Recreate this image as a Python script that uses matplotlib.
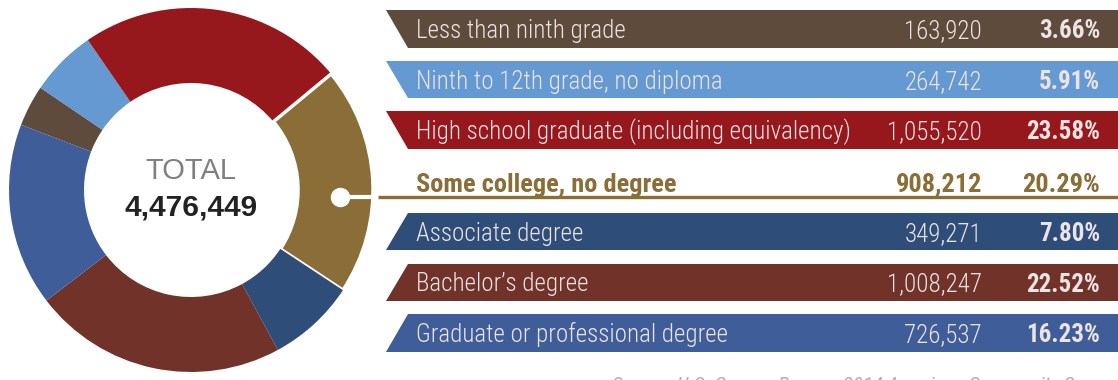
import matplotlib
matplotlib.use("Agg")
import matplotlib.pyplot as plt
from matplotlib import font_manager
from matplotlib.patches import Polygon

installed = {f.name for f in font_manager.fontManager.ttflist}
cond = next((n for n in ["Roboto Condensed", "Fira Sans Condensed", "Liberation Sans Narrow",
                         "Pragati Narrow"] if n in installed), "DejaVu Sans")
plt.rcParams['font.family'] = [cond, 'DejaVu Sans']

# data
categories = ["Less than ninth grade",
              "Ninth to 12th grade, no diploma",
              "High school graduate (including equivalency)",
              "Some college, no degree",
              "Associate degree",
              "Bachelor\u2019s degree",
              "Graduate or professional degree"]
counts = [163920, 264742, 1055520, 908212, 349271, 1008247, 726537]
percents = ["3.66%", "5.91%", "23.58%", "20.29%", "7.80%", "22.52%", "16.23%"]
total_label = "4,476,449"
colors = ["#5f4b3c", "#6599d1", "#96181d", "#8a6d37", "#2e4d78", "#71322a", "#3f5e99"]
highlight = 3

W, H = 1118, 380
fig = plt.figure(figsize=(W / 100, H / 100), dpi=100)
ax = fig.add_axes([0, 0, 1, 1])

# donut (pixel coordinates, y measured from bottom)
cx, cy = 191, H - 190
R, ring = 182, 75
explode = [0.045 if i == highlight else 0 for i in range(len(counts))]
wedges, _ = ax.pie(counts, colors=colors, radius=R, center=(cx, cy), startangle=159,
                   counterclock=False, explode=explode,
                   wedgeprops=dict(width=ring, linewidth=0))
wedges[highlight].set_edgecolor("white")
wedges[highlight].set_linewidth(2.5)

plain = ["Liberation Sans", "DejaVu Sans"]
ax.text(cx, cy + 19, "TOTAL", ha="center", va="center", fontsize=21,
        color="#808080", family=plain)
ax.text(cx, cy - 18, total_label, ha="center", va="center", fontsize=21.5,
        fontweight="bold", color="#222222", family=plain)

# connector from highlighted wedge
ly = H - 197
ax.plot([340, 377], [ly, ly], color="white", lw=3, solid_capstyle="butt", zorder=5)
ax.plot([340], [ly], "o", color="white", markersize=13, zorder=6)
ax.plot([378, W], [ly, ly], color=colors[highlight], lw=2.4, solid_capstyle="butt", zorder=5)

# table rows
row_top0, row_step, row_h = 10, 50.7, 37.5
x_lab, x_num, x_pct = 416, 982, 1100
txt_col = "#ece4e4"
fs = 18
for i, (cat, n, p, c) in enumerate(zip(categories, counts, percents, colors)):
    top = row_top0 + i * row_step
    bot = top + row_h
    base = H - (bot - 9.5)
    if i == highlight:
        for x, s, ha in [(x_lab, cat, "left"), (x_num, f"{n:,}", "right"), (x_pct, p, "right")]:
            ax.text(x, base - 1.5, s, ha=ha, va="baseline", fontsize=19,
                    fontweight="bold", color=c)
        continue
    if i < highlight:
        xt, xb = 386, 408
    else:
        xt, xb = 408, 386
    poly = Polygon([(xt, H - top), (W, H - top), (W, H - bot), (xb, H - bot)],
                   closed=True, facecolor=c, edgecolor="none")
    ax.add_patch(poly)
    ax.text(x_lab, base, cat, ha="left", va="baseline", fontsize=fs,
            fontweight="light", color=txt_col)
    ax.text(x_num, base, f"{n:,}", ha="right", va="baseline", fontsize=fs,
            fontweight="light", color=txt_col)
    ax.text(x_pct, base, p, ha="right", va="baseline", fontsize=fs,
            fontweight="bold", color=txt_col)

ax.text(612, H - 376, "Source: U.S. Census Bureau, 2014 American Community Survey",
        ha="left", va="top", fontsize=15, style="italic", color="#b0b0b0")

ax.set_xlim(0, W)
ax.set_ylim(0, H)
ax.set_aspect("auto")
ax.axis("off")
fig.savefig("out.png", dpi=100)
